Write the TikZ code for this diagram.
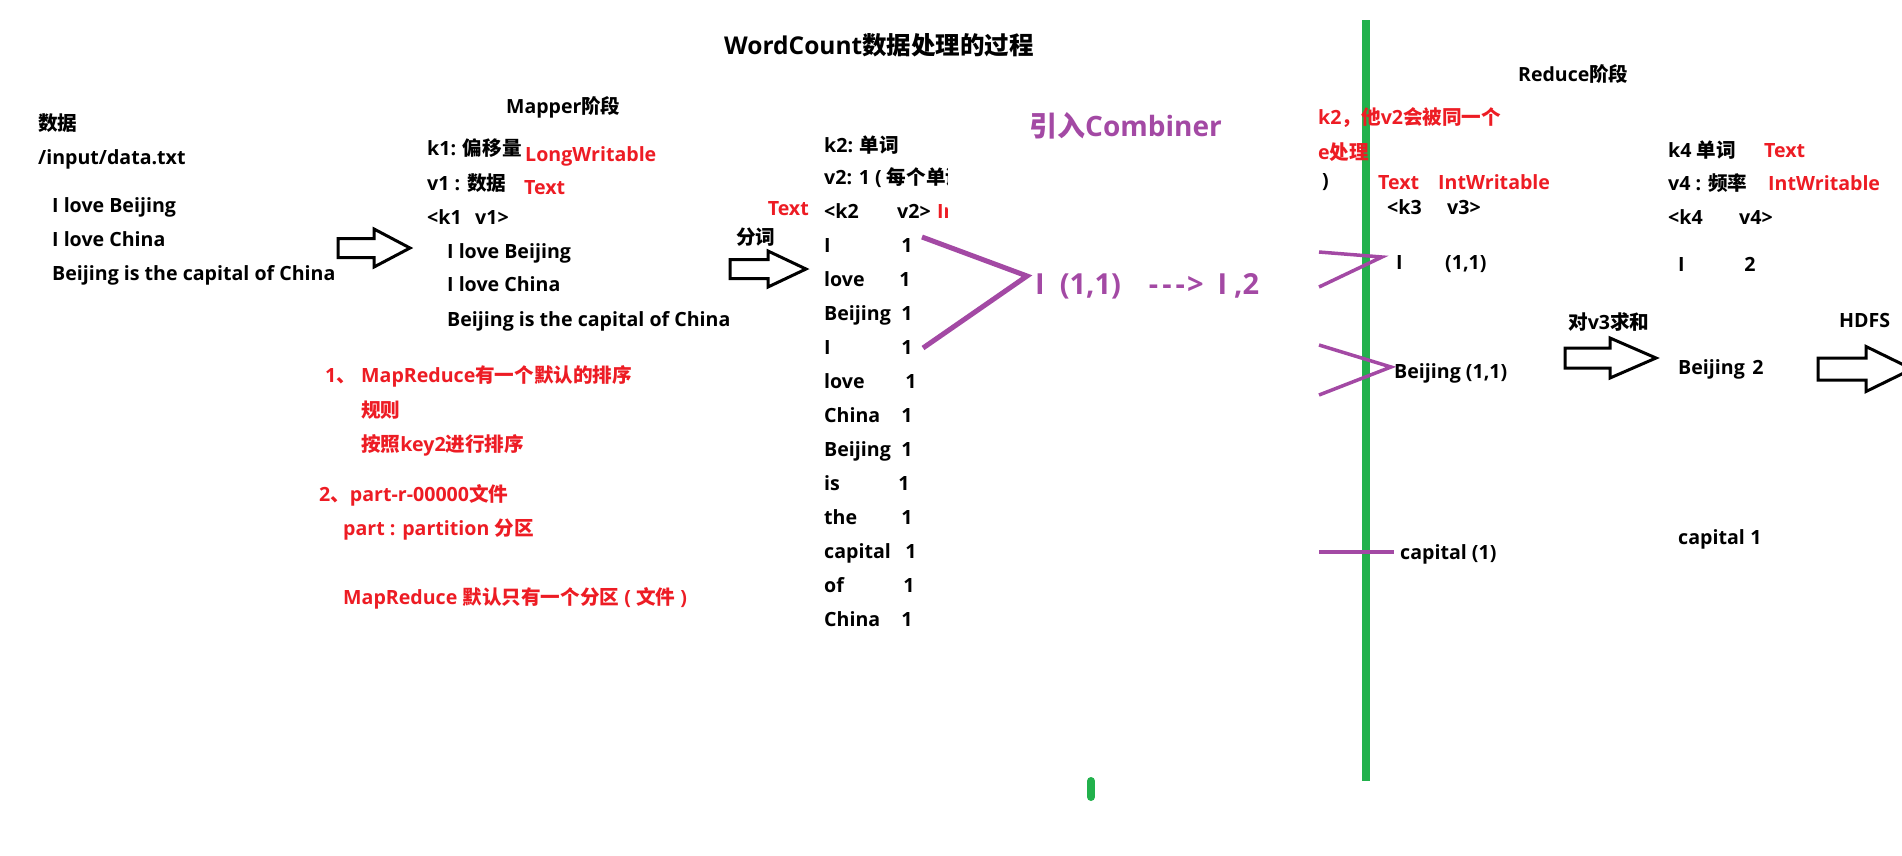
\documentclass[tikz,border=0pt]{standalone}
\usepackage{fontspec}
\setmainfont{Open Sans}
\newfontfamily\cjkfont{Noto Sans CJK SC}
\usetikzlibrary{positioning}
\definecolor{notered}{RGB}{237,28,36}
\definecolor{combpurple}{RGB}{163,73,164}
\definecolor{splitgreen}{RGB}{34,177,76}
\newcommand{\zh}[1]{{\cjkfont #1}}
% hollow block arrow: left, head base, tip, mid y, shaft half, head half
\newcommand{\fatarrow}[6]{%
  \draw[fatarr] (#1,#4-#5) -- (#2,#4-#5) -- (#2,#4-#6) -- (#3,#4)
    -- (#2,#4+#6) -- (#2,#4+#5) -- (#1,#4+#5) -- cycle;}

\begin{document}
\begin{tikzpicture}[
  x=1pt, y=-1pt,
  every node/.style={inner sep=0pt, anchor=base west,
                     font=\bfseries\fontsize{19.6}{24}\selectfont},
  note/.style={text=notered},
  stage/.style={font=\bfseries\fontsize{19.5}{23}\selectfont},
  comb/.style={text=combpurple, font=\bfseries\fontsize{29}{33}\selectfont},
  fatarr/.style={draw=black, line width=3pt, fill=white, line join=miter},
  link/.style={combpurple, line width=3.5pt},
  divider/.style={splitgreen, line width=8pt}
]
\useasboundingbox (0,0) rectangle (1902,855);
%% divider between map and reduce
\draw[divider] (1366,20) -- (1366,781);
\draw[divider, line cap=round] (1091,781) -- (1091,797);
%% title
\node[font=\bfseries\fontsize{24.5}{30}\selectfont] (title) at (724,54)
  {WordCount\zh{数据处理的过程}};
%% input data
\node (data) at (38,130) {\zh{数据}};
\node (file) at (38,164) {/input/data.txt};
\node (inA) at (52,212) {I love Beijing};
\node (inB) at (52,246) {I love China};
\node (inC) at (52,280) {Beijing is the capital of China};
\fatarrow{338}{374}{410}{248}{9.5}{19}
%% mapper stage
\node[stage] (mapper) at (506,113) {Mapper\zh{阶段}};
\node (k1) at (427,155) {k1: \zh{偏移量}};
\node[note] (k1t) at (525,161) {LongWritable};
\node (v1) at (427,190) {v1 : \zh{数据}};
\node[note] (v1t) at (524,194) {Text};
\node (kv1a) at (427,224) {<k1};
\node (kv1b) at (475,224) {v1>};
\node (mA) at (447,258) {I love Beijing};
\node (mB) at (447,291) {I love China};
\node (mC) at (447,326) {Beijing is the capital of China};
%% notes on sorting and partitions
\node[note] (s1) at (325,382) {1\zh{、}};
\node[note] (s1a) at (361,382) {MapReduce\zh{有一个默认的排序}};
\node[note] (s1b) at (361,417) {\zh{规则}};
\node[note] (s1c) at (361,451) {\zh{按照}key2\zh{进行排序}};
\node[note] (s2) at (319,501) {2\zh{、}part-r-00000\zh{文件}};
\node[note] (s2a) at (343,535) {part : partition \zh{分区}};
\node[note] (s2b) at (343,604) {MapReduce \zh{默认只有一个分区} ( \zh{文件} )};
%% split words
\node (split) at (736,244) {\zh{分词}};
\fatarrow{730}{768}{806}{269}{9.5}{18}
\node (k2) at (824,152) {k2: \zh{单词}};
\node[note, anchor=base east] (k2t) at (809,215) {Text};
\node (kv2a) at (824,218) {<k2};
\node (kv2b) at (897,218) {v2>};
\begin{scope}
  \clip (0,0) rectangle (947,855);
  \node (v2) at (824,184) {v2: 1 ( \zh{每个单词}};
  \node[note] (v2t) at (937,218) {IntWritable};
\end{scope}
\foreach \w/\nx [count=\i from 0] in {I/907,love/905,Beijing/907,I/907,love/911,
    China/907,Beijing/907,is/904,the/907,capital/911,of/909,China/907}{
  \node (w\i) at (824,252+34*\i) {\w};
  \node[anchor=base] (n\i) at (\nx,252+34*\i) {1};
}
%% combiner
\node[comb, font=\bfseries\fontsize{28}{32}\selectfont] (combiner) at (1029,136)
  {\zh{引入}Combiner};
\node[comb] (cmb) at (1035,294)
  {I\hspace{15pt}(1,1)\hspace{28pt}-\hspace{4pt}-\hspace{4pt}-\hspace{2pt}>\hspace{14pt}I\hspace{7pt},2};
\coordinate (cmbTop) at (922,237);
\coordinate (cmbTip) at (1027,276);
\coordinate (cmbBot) at (923,348);
\draw[link, line width=5pt] (cmbTop) -- (cmbTip) -- (cmbBot);
%% partly hidden note
\node[note] (same) at (1318,124) {k2\zh{，他}v2\zh{会被同一个}};
\node[note] (same2) at (1318,159) {e\zh{处理}};
\node (same3) at (1322,187) {)};
%% reduce stage
\node[stage] (reducer) at (1518,81) {Reduce\zh{阶段}};
\node[note] (k3t) at (1378,189) {Text};
\node[note] (v3t) at (1438,189) {IntWritable};
\node (kv3a) at (1387,214) {<k3};
\node (kv3b) at (1447,214) {v3>};
\node (r1) at (1396,269) {I};
\node (r1v) at (1445,269) {(1,1)};
\node (r2) at (1394,378) {Beijing (1,1)};
\node (r3) at (1400,559) {capital (1)};
\coordinate (g1a) at (1319,252);
\coordinate (g1tip) at (1382,257);
\coordinate (g1b) at (1319,287);
\coordinate (g2a) at (1319,345);
\coordinate (g2tip) at (1391,367);
\coordinate (g2b) at (1319,395);
\coordinate (g3a) at (1319,552);
\coordinate (g3b) at (1394,552);
\draw[link] (g1a) -- (g1tip) -- (g1b);
\draw[link] (g2a) -- (g2tip) -- (g2b);
\draw[link] (g3a) -- (g3b);
%% sum
\node (sum) at (1568,329) {\zh{对}v3\zh{求和}};
\fatarrow{1565}{1610}{1656}{358}{10}{20}
\node (k4) at (1668,157) {k4 \zh{单词}};
\node[note] (k4t) at (1764,157) {Text};
\node (v4) at (1668,190) {v4 : \zh{频率}};
\node[note] (v4t) at (1768,190) {IntWritable};
\node (kv4a) at (1668,224) {<k4};
\node (kv4b) at (1739,224) {v4>};
\node (o1) at (1678,271) {I};
\node[anchor=base] (o1v) at (1750,271) {2};
\node (o2) at (1678,374) {Beijing};
\node[anchor=base] (o2v) at (1758,374) {2};
\node (o3) at (1678,544) {capital};
\node[anchor=base] (o3v) at (1756,544) {1};
%% output
\node (hdfs) at (1839,327) {HDFS};
\fatarrow{1818}{1866}{1912}{369}{11}{22.5}
\end{tikzpicture}
\end{document}
